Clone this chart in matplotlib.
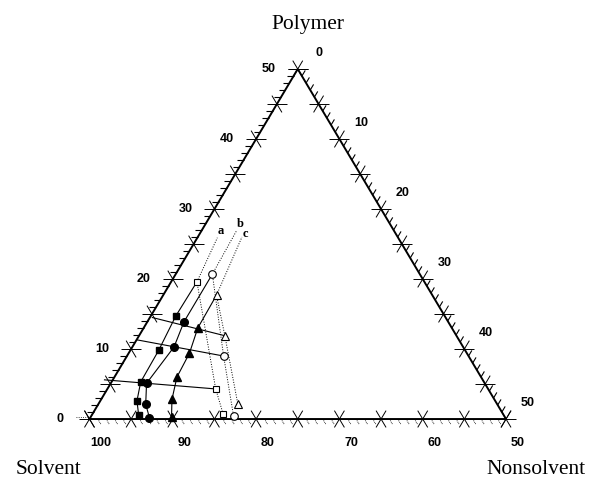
import numpy as np
import matplotlib
matplotlib.use('Agg')
import matplotlib.pyplot as plt

S3 = np.sqrt(3) / 2

# ---- data: compositions as (polymer %, nonsolvent %) ----
fsq_P = [14.7, 9.8, 5.3, 2.6, 0.6]
fsq_N = [3.0, 3.4, 3.5, 4.4, 5.6]
fci_P = [13.9, 10.3, 5.1, 2.1, 0.2]
fci_N = [4.4, 5.0, 4.3, 5.7, 7.1]
ftr_P = [13.0, 9.4, 6.0, 2.8, 0.3]
ftr_N = [6.5, 7.3, 7.5, 8.5, 9.7]

osq_P = [19.6, 4.3, 0.7]
osq_N = [3.1, 13.0, 15.7]
oci_P = [20.7, 9.0, 0.4]
oci_N = [4.4, 11.6, 17.1]
otr_P = [17.7, 11.9, 2.2]
otr_N = [6.4, 10.3, 16.7]

# tie lines: start on the solvent/polymer side -> end at open markers
tie_start_P = [14.5, 11.3, 5.6]
tie_start_N = [0.3, 0.1, -1.0]
tie_end_P = [11.9, 9.0, 4.3]
tie_end_N = [10.3, 11.6, 13.0]

# dotted extension ends (near labels a, b, c)
ext_labels = ['a', 'b', 'c']
ext_end_P = [25.9, 27.0, 26.0]
ext_end_N = [2.4, 4.2, 5.3]
lab_P = [26.8, 27.9, 26.5]
lab_N = [2.3, 4.1, 5.5]

polymer_ticks = [0, 10, 20, 30, 40, 50]
solvent_ticks = [100, 90, 80, 70, 60, 50]
nonsolvent_ticks = [0, 10, 20, 30, 40, 50]


def xy(P, N):
    P = np.asarray(P, float)
    N = np.asarray(N, float)
    return N + P / 2, P * S3


fig = plt.figure(figsize=(5.93, 4.82), dpi=100)
ax = fig.add_axes([0, 0, 1, 1])
ax.set_xlim(-10.74, 60.44)
ax.set_ylim(-7.79, 51.84)
ax.axis('off')

# triangle outline
tx, ty = xy([0, 0, 50, 0], [0, 50, 0, 0])
ax.plot(tx, ty, color='black', lw=1.4, zorder=3, solid_joinstyle='miter')
# short dotted extension left of vertex
ax.plot([-1.6, 0], [0.25, 0.25], color='black', lw=0.6, ls=':', zorder=2)

d60 = np.array([0.5, S3])
dm60 = np.array([0.5, -S3])
hz = np.array([1.0, 0.0])
L = 1.2
ml = 0.8

def seg(p, d, a, b, **kw):
    ax.plot([p[0] + a * d[0], p[0] + b * d[0]], [p[1] + a * d[1], p[1] + b * d[1]],
            color='black', solid_capstyle='butt', **kw)

for k in range(0, 51):
    pl = np.array([k / 2, k * S3])          # left edge (polymer)
    pb = np.array([k, 0.0])                 # bottom edge (solvent)
    pr = np.array([25 + k / 2, (50 - k) * S3])  # right edge (nonsolvent)
    if k % 5 == 0:
        seg(pl, hz, -L, L, lw=0.7)
        seg(pl, dm60, -L, L, lw=0.7)
        seg(pb, d60, -L, L, lw=0.7)
        seg(pb, dm60, -L, L, lw=0.7)
        seg(pr, hz, -L, L, lw=0.7)
        seg(pr, d60, -L, L, lw=0.7)
    else:
        seg(pl, hz, -ml, 0, lw=0.8)
        seg(pb, dm60, 0, ml, lw=0.6, ls=(0, (1, 1)))
        seg(pr, d60, 0, ml, lw=0.8)

tick_kw = dict(fontsize=9, family='Liberation Sans', fontweight='bold',
               ha='center', va='center', color='black')
for v in polymer_ticks:
    ax.text(v / 2 - 3.5, v * S3, str(v), **tick_kw)
for v in solvent_ticks:
    k = 100 - v
    ax.text(k + 1.4, -2.95, str(v), **tick_kw)
for v in nonsolvent_ticks:
    ax.text(25 + v / 2 + 2.6, (50 - v) * S3 + 2.0, str(v), **tick_kw)

title_kw = dict(fontsize=15.5, family='Liberation Serif', ha='center', va='center')
ax.text(26.2, 48.75, 'Polymer', **title_kw)
ax.text(-4.9, -6.3, 'Solvent', **title_kw)
ax.text(53.6, -6.3, 'Nonsolvent', **title_kw)

# tie lines
for sp, sn, ep, en in zip(tie_start_P, tie_start_N, tie_end_P, tie_end_N):
    x, y = xy([sp, ep], [sn, en])
    ax.plot(x, y, color='black', lw=0.8, zorder=4)

# solid paths through filled markers + dotted curves through open markers
for oP, oN, fP, fN in [(osq_P, osq_N, fsq_P, fsq_N),
                       (oci_P, oci_N, fci_P, fci_N),
                       (otr_P, otr_N, ftr_P, ftr_N)]:
    x, y = xy([oP[0]] + fP, [oN[0]] + fN)
    ax.plot(x, y, color='black', lw=0.8, zorder=4)
    x, y = xy(oP, oN)
    ax.plot(x, y, color='black', lw=0.7, ls=(0, (1, 1.6)), zorder=4)

# dotted extensions to labels
for (oP, oN), eP, eN, lP, lN, lab in zip([(osq_P, osq_N), (oci_P, oci_N), (otr_P, otr_N)],
                                        ext_end_P, ext_end_N, lab_P, lab_N, ext_labels):
    x, y = xy([oP[0], eP], [oN[0], eN])
    ax.plot(x, y, color='black', lw=0.7, ls=(0, (1, 1.6)), zorder=4)
    lx, ly = xy(lP, lN)
    ax.text(lx, ly, lab, fontsize=9, family='Liberation Serif', fontweight='bold',
            ha='center', va='center')

ms = 5.5
x, y = xy(fsq_P, fsq_N)
ax.plot(x, y, 's', ms=ms - 0.5, color='black', ls='none', zorder=6)
x, y = xy(fci_P, fci_N)
ax.plot(x, y, 'o', ms=ms, color='black', ls='none', zorder=6)
x, y = xy(ftr_P, ftr_N)
ax.plot(x, y, '^', ms=ms, color='black', ls='none', zorder=6)

x, y = xy(osq_P, osq_N)
ax.plot(x, y, 's', ms=ms - 0.5, mfc='white', mec='black', mew=0.8, ls='none', zorder=6)
x, y = xy(oci_P, oci_N)
ax.plot(x, y, 'o', ms=ms, mfc='white', mec='black', mew=0.8, ls='none', zorder=6)
x, y = xy(otr_P, otr_N)
ax.plot(x, y, '^', ms=ms, mfc='white', mec='black', mew=0.8, ls='none', zorder=6)

fig.savefig('out.png', dpi=100)
